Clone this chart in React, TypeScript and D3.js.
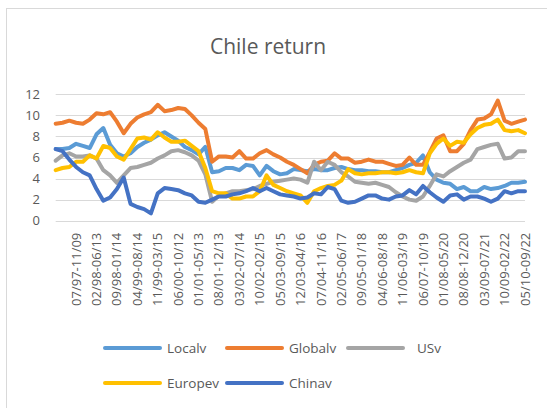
import React from "react";
import * as d3 from "d3";

const width = 547;
const height = 408;

// one sample every 7/3 months; a tick label sits on every third sample
const localv = [
  6.8, 6.8, 6.9, 7.3, 7.1, 6.9, 8.2, 8.8, 7.2, 6.4, 6.1, 6.4, 7.0, 7.4, 7.7, 8.1, 8.4, 8.0, 7.6, 7.0,
  6.7, 6.3, 7.0, 4.6, 4.7, 5.0, 5.0, 4.8, 5.3, 5.2, 4.3, 5.2, 4.7, 4.4, 4.5, 4.9, 4.8, 4.7, 4.9, 4.8,
  4.8, 5.0, 5.1, 4.9, 4.8, 4.8, 4.7, 4.7, 4.6, 4.6, 4.8, 5.0, 5.3, 5.5, 6.2, 4.6, 3.9, 3.6, 3.5, 3.0,
  3.2, 2.8, 2.8, 3.2, 3.0, 3.1, 3.3, 3.6, 3.6, 3.7,
];
const globalv = [
  9.2, 9.3, 9.5, 9.3, 9.2, 9.6, 10.2, 10.1, 10.3, 9.4, 8.3, 9.2, 9.8, 10.1, 10.3, 11.0, 10.4, 10.5, 10.7, 10.6,
  10.0, 9.3, 8.7, 5.6, 6.1, 6.1, 6.0, 6.6, 5.9, 5.9, 6.4, 6.7, 6.3, 6.0, 5.6, 5.3, 4.9, 4.5, 5.3, 5.6,
  5.7, 6.4, 5.9, 5.9, 5.5, 5.6, 5.8, 5.6, 5.6, 5.4, 5.2, 5.3, 6.0, 5.3, 5.3, 6.5, 7.8, 8.1, 6.6, 6.6,
  7.3, 8.6, 9.6, 9.7, 10.1, 11.4, 9.5, 9.2, 9.4, 9.6,
];
const usv = [
  5.7, 6.2, 6.4, 6.1, 6.1, 6.2, 5.9, 4.8, 4.3, 3.6, 4.3, 5.0, 5.1, 5.3, 5.5, 5.9, 6.2, 6.6, 6.7, 6.5,
  6.2, 5.7, 4.4, 1.8, 2.4, 2.6, 2.8, 2.8, 2.9, 3.0, 3.3, 3.5, 3.7, 3.8, 3.9, 4.0, 3.9, 3.6, 5.6, 4.8,
  5.6, 5.3, 4.6, 4.2, 3.7, 3.6, 3.5, 3.6, 3.4, 3.2, 2.7, 2.3, 2.0, 1.9, 2.3, 3.3, 4.4, 4.2, 4.7, 5.1,
  5.5, 5.8, 6.8, 7.0, 7.2, 7.3, 5.9, 6.0, 6.6, 6.6,
];
const europev = [
  4.8, 5.0, 5.1, 5.6, 5.6, 6.2, 5.9, 7.1, 6.9, 6.1, 5.8, 6.8, 7.8, 7.9, 7.7, 8.4, 7.9, 7.5, 7.5, 7.6,
  7.1, 6.6, 5.0, 2.8, 2.6, 2.6, 2.1, 2.1, 2.3, 2.3, 2.8, 4.3, 3.4, 3.1, 2.8, 2.6, 2.4, 1.7, 2.8, 3.1,
  3.3, 3.4, 3.8, 4.9, 4.5, 4.4, 4.5, 4.5, 4.6, 4.6, 4.5, 4.6, 4.8, 4.6, 4.5, 6.4, 7.3, 7.8, 7.1, 7.5,
  7.4, 8.2, 8.8, 9.1, 9.2, 9.6, 8.6, 8.5, 8.6, 8.3,
];
const chinav = [
  6.8, 6.6, 5.8, 5.1, 4.6, 4.3, 3.0, 1.9, 2.2, 3.0, 4.1, 1.6, 1.3, 1.1, 0.7, 2.6, 3.1, 3.0, 2.9, 2.6,
  2.4, 1.8, 1.7, 2.0, 2.3, 2.3, 2.5, 2.6, 2.8, 3.1, 2.8, 3.1, 2.8, 2.5, 2.4, 2.3, 2.1, 2.2, 2.6, 2.5,
  3.2, 3.0, 1.9, 1.7, 1.8, 2.1, 2.4, 2.4, 2.1, 2.0, 2.3, 2.4, 2.9, 2.5, 3.3, 2.7, 2.2, 1.8, 2.4, 2.5,
  2.0, 2.3, 2.3, 2.1, 1.8, 2.1, 2.8, 2.6, 2.8, 2.8,
];

const tickLabels = [
  "07/97-11/09", "02/98-06/13", "09/98-01/14", "04/99-08/14", "11/99-03/15", "06/00-10/12",
  "01/01-05/13", "08/01-12/13", "03/02-07/14", "10/02-02/15", "05/03-09/15", "12/03-04/16",
  "07/04-11/16", "02/05-06/17", "09/05-01/18", "04/06-08/18", "11/06-03/19", "06/07-10/19",
  "01/08-05/20", "08/08-12/20", "03/09-07/21", "10/09-02/22", "05/10-09/22",
];
const yTicks = [0, 2, 4, 6, 8, 10, 12];

const seriesNames = ["Localv", "Globalv", "USv", "Europev", "Chinav"];
const seriesValues = [localv, globalv, usv, europev, chinav];
const seriesColors = ["#5B9BD5", "#ED7D31", "#A5A5A5", "#FFC000", "#4472C4"];
// draw order follows Excel: later series on top
const legendCols = [0, 1, 2, 0, 1];
const legendRows = [0, 0, 0, 1, 1];

const font = "'Open Sans', 'Noto Sans', sans-serif";
const textColor = "#595959";

export default function App() {
  const margin = { left: 55.7, right: 22, top: 94.3, bottom: 187.3 };
  const x = d3
    .scaleLinear()
    .domain([0, localv.length - 1])
    .range([margin.left, width - margin.right]);
  const y = d3
    .scaleLinear()
    .domain([0, 12])
    .range([height - margin.bottom, margin.top]);

  const line = d3
    .line<number>()
    .x((_, i) => x(i))
    .y((d) => y(d))
    .curve(d3.curveLinear);

  const legendX = d3.scaleLinear().domain([0, 1]).range([105, 227]);
  const legendY = d3.scaleLinear().domain([0, 1]).range([348, 383]);

  return (
    <svg
      width={width}
      height={height}
      style={{ position: "absolute", left: 0, top: 0, background: "#fff" }}
    >
      <rect x={6.5} y={8.5} width={width} height={height} fill="#fff" stroke="#d9d9d9" />
      <text
        x={268}
        y={54}
        textAnchor="middle"
        fontFamily={font}
        fontSize={21}
        fill={textColor}
      >
        Chile return
      </text>

      {yTicks.map((t) => (
        <g key={t}>
          <line
            x1={x(0)}
            x2={x(localv.length - 1)}
            y1={Math.round(y(t)) + 0.5}
            y2={Math.round(y(t)) + 0.5}
            stroke="#d9d9d9"
            strokeWidth={1}
          />
          <text
            x={40}
            y={y(t)}
            dy="0.35em"
            textAnchor="end"
            fontFamily={font}
            fontSize={13}
            fill={textColor}
          >
            {t}
          </text>
        </g>
      ))}

      {tickLabels.map((lab, j) => (
        <text
          key={lab}
          transform={`translate(${x((j + 1) * 3)},${y(0) + 12}) rotate(-90)`}
          dy="0.35em"
          textAnchor="end"
          fontFamily={font}
          fontSize={13}
          fill={textColor}
        >
          {lab}
        </text>
      ))}

      {seriesValues.map((vals, s) => (
        <path
          key={seriesNames[s]}
          d={line(vals) || ""}
          fill="none"
          stroke={seriesColors[s]}
          strokeWidth={4}
          strokeLinejoin="round"
          strokeLinecap="round"
        />
      ))}

      {seriesNames.map((name, s) => {
        const lx = legendX(legendCols[s]) + (legendCols[s] === 2 ? 1 : 0);
        const lx0 = legendCols[s] === 2 ? 348 : lx;
        const ly = legendY(legendRows[s]);
        return (
          <g key={name}>
            <line
              x1={lx0}
              x2={lx0 + 55}
              y1={ly}
              y2={ly}
              stroke={seriesColors[s]}
              strokeWidth={4}
              strokeLinecap="round"
            />
            <text
              x={legendCols[s] === 2 ? 417 : lx0 + 62}
              y={ly}
              dy="0.35em"
              fontFamily={font}
              fontSize={13.5}
              fill={textColor}
            >
              {name}
            </text>
          </g>
        );
      })}
    </svg>
  );
}
